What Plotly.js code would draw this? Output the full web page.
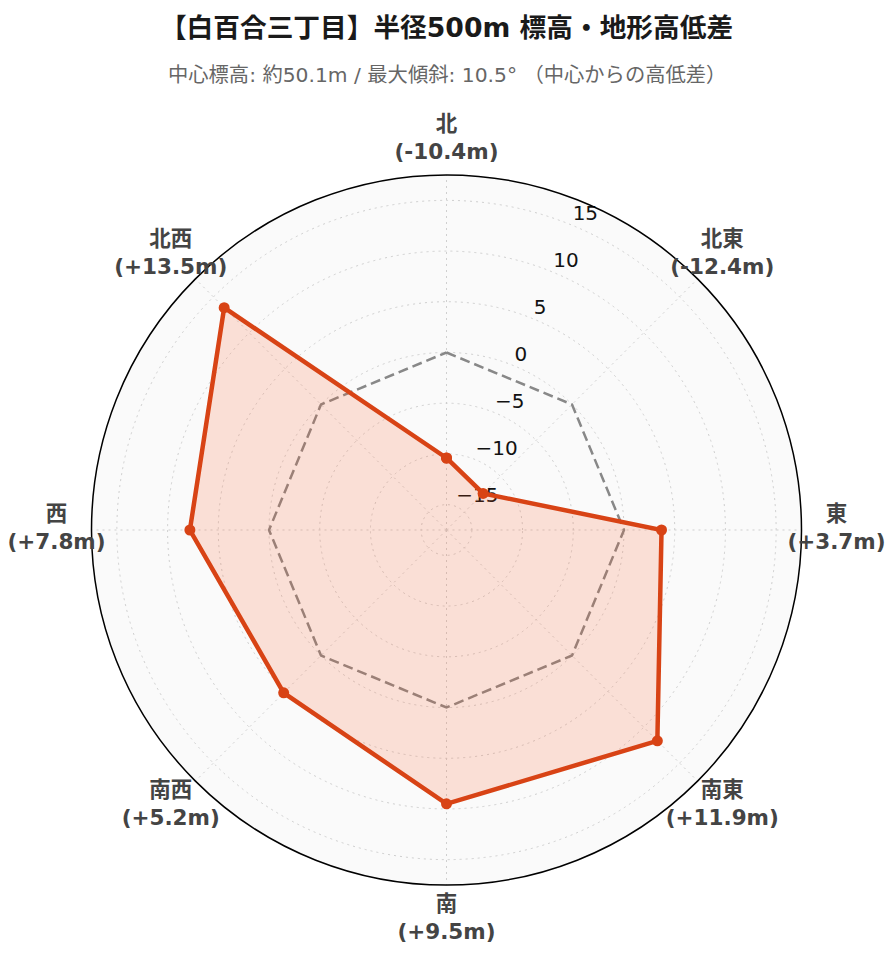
<!DOCTYPE html>
<html>
<head>
<meta charset="utf-8">
<script src="https://cdn.plot.ly/plotly-3.0.1.min.js"></script>
<style>
  html, body { margin: 0; padding: 0; background: #fff; }
  #chart { width: 893px; height: 962px; }
</style>
</head>
<body>
<div id="chart"></div>
<script>
// 方位ごとの高低差 (中心比, m)
const directions = ['北', '北東', '東', '南東', '南', '南西', '西', '北西'];
const heightDiff = [-10.4, -12.4, 3.7, 11.9, 9.5, 5.2, 7.8, 13.5];
const radialTicks = [-15, -10, -5, 0, 5, 10, 15];

const fmt = v => (v > 0 ? '+' : '') + v.toFixed(1) + 'm';
const labels = directions.map((d, i) => '<b>' + d + '<br>(' + fmt(heightDiff[i]) + ')</b>');
const tickText = radialTicks.map(v => (v < 0 ? '\u2212' + Math.abs(v) : String(v)));

// close the polygon
const theta = directions.concat(directions[0]);
const rVals = heightDiff.concat(heightDiff[0]);
const zeroLine = theta.map(() => 0);

const rRange = [-17.5, 17.5];
const tickAngle = 22.5;   // degrees clockwise from north
const baseFont = '"DejaVu Sans", "Noto Sans CJK JP", sans-serif';

// plot area: 833 x 820 px, main circle radius 355 px, label ring on a bigger overlay polar
const plotW = 833, plotH = 820, circleR = 355;
const dx = circleR / plotW, dy = circleR / plotH;
const mainDomain = { x: [0.5 - dx, 0.5 + dx], y: [0.5 - dy, 0.5 + dy] };
const labelRing = 390 / 410;

const traces = [
    {
        // radial tick labels (bottom layer, under the data)
        type: 'scatterpolar',
        subplot: 'polar',
        r: radialTicks,
        theta: radialTicks.map(() => tickAngle),
        mode: 'text',
        text: tickText,
        textposition: 'top right',
        textfont: { family: baseFont, size: 20, color: '#111' },
        cliponaxis: false,
        hoverinfo: 'skip',
        showlegend: false,
    },
    {
        // direction labels
        type: 'scatterpolar',
        subplot: 'polar2',
        r: directions.map(() => labelRing),
        theta: directions,
        mode: 'text',
        text: labels,
        textposition: 'middle center',
        textfont: { family: baseFont, size: 21.5, color: '#444' },
        cliponaxis: false,
        hoverinfo: 'skip',
        showlegend: false,
    },
    {
        type: 'scatterpolar',
        subplot: 'polar3',
        r: zeroLine,
        theta: theta,
        mode: 'lines',
        line: { color: '#888', width: 2.5, dash: '10px,5px' },
        hoverinfo: 'skip',
        showlegend: false,
    },
    {
        type: 'scatterpolar',
        subplot: 'polar3',
        r: rVals,
        theta: theta,
        mode: 'lines+markers',
        fill: 'toself',
        fillcolor: 'rgba(255, 87, 34, 0.16)',
        line: { color: '#d84315', width: 4.5 },
        marker: { color: '#d84315', size: 11 },
        name: '高低差',
        showlegend: false,
    },
];

const hiddenAxis = {
    showline: false, showgrid: false, showticklabels: false, ticks: '',
};

const layout = {
    width: 893,
    height: 962,
    margin: { t: 120, b: 22, l: 30, r: 30 },
    paper_bgcolor: '#fff',
    font: { family: baseFont, color: '#333' },
    title: {
        text: '<b>【白百合三丁目】半径500m 標高・地形高低差</b>',
        font: { family: baseFont, size: 26.7, color: '#1a1a1a' },
        x: 0.5,
        xanchor: 'center',
        y: 1 - 28 / 962,
        yref: 'container',
        yanchor: 'middle',
    },
    annotations: [{
        text: '中心標高: 約50.1m / 最大傾斜: 10.5° （中心からの高低差）',
        font: { family: baseFont, size: 20.3, color: '#666' },
        xref: 'paper', yref: 'paper',
        x: 0.5, y: 1 + 45 / plotH,
        xanchor: 'center', yanchor: 'middle',
        showarrow: false,
    }],
    // base: background, grid, outer circle
    polar: {
        domain: mainDomain,
        bgcolor: '#fafafa',
        angularaxis: {
            direction: 'clockwise',
            rotation: 90,
            tickmode: 'linear',
            tick0: 0,
            dtick: 45,
            showticklabels: false,
            showline: true,
            linecolor: '#000',
            linewidth: 1.5,
            ticks: '',
            gridcolor: '#cfcfcf',
            griddash: '2px,4px',
        },
        radialaxis: {
            range: rRange,
            tickvals: radialTicks,
            showticklabels: false,
            showline: false,
            ticks: '',
            gridcolor: '#cfcfcf',
            griddash: '2px,4px',
        },
    },
    polar2: {
        domain: { x: [0, 1], y: [0, 1] },
        bgcolor: 'rgba(0,0,0,0)',
        angularaxis: Object.assign({ direction: 'clockwise', rotation: 90 }, hiddenAxis),
        radialaxis: Object.assign({ range: [0, 1] }, hiddenAxis),
    },
    // data layer, same circle as the base
    polar3: {
        domain: mainDomain,
        bgcolor: 'rgba(0,0,0,0)',
        angularaxis: Object.assign({ direction: 'clockwise', rotation: 90 }, hiddenAxis),
        radialaxis: Object.assign({ range: rRange }, hiddenAxis),
    },
};

Plotly.newPlot('chart', traces, layout, { displayModeBar: false, responsive: false });
</script>
</body>
</html>
